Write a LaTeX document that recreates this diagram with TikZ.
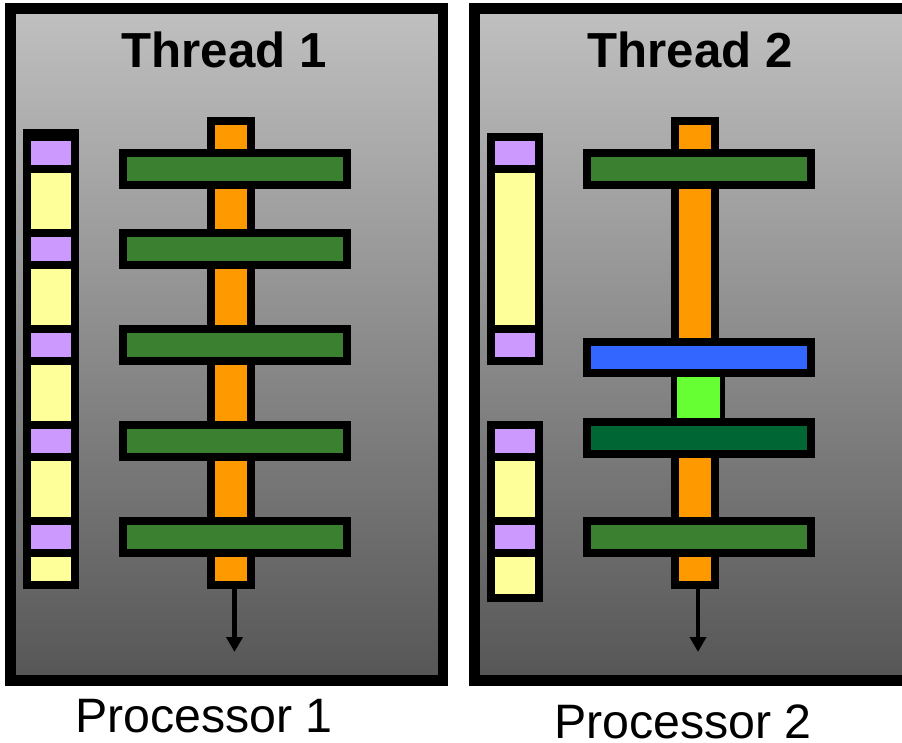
\documentclass[tikz,border=0pt]{standalone}
\usepackage{fontspec}
\setmainfont{Liberation Sans}
\usepackage{tikz}
\usetikzlibrary{arrows.meta, positioning}

\definecolor{paneltop}{RGB}{192,192,192}
\definecolor{panelbot}{RGB}{86,86,86}
\definecolor{purp}{RGB}{204,153,255}
\definecolor{yell}{RGB}{255,255,153}
\definecolor{orng}{RGB}{255,153,0}
\definecolor{grn}{RGB}{59,127,48}
\definecolor{blu}{RGB}{51,102,255}
\definecolor{lgrn}{RGB}{102,255,51}
\definecolor{dgrn}{RGB}{0,102,51}

\begin{document}
\begin{tikzpicture}[
		x=0.02cm, y=-0.02cm,
		panel/.style={draw, line width=0.21cm, top color=paneltop, bottom color=panelbot, minimum width=8.65cm, minimum height=13.44cm, inner sep=0},
		title/.style={font=\fontsize{28}{32}\selectfont\bfseries, anchor=base},
		proc/.style={font=\fontsize{27.5}{32}\selectfont, anchor=base, inner sep=0},
		thread/.style={draw, line width=0.16cm, fill=orng, minimum width=0.8cm, minimum height=9.28cm, inner sep=0},
		bar/.style={draw, line width=0.16cm, minimum width=4.48cm, minimum height=0.64cm, inner sep=0},
		memcol/.style={fill=black, minimum width=1.12cm, inner sep=0},
		cell/.style={minimum width=0.8cm, inner sep=0},
		flow/.style={-{Triangle[length=0.3cm, width=0.32cm]}, line width=0.09cm}
		]
		
		\path[use as bounding box, clip] (0,0) rectangle (902,743);
		
		% Processor 1 panel
		\node[panel] (p1) at (226.75, 344.5) {};
		\node[title] (t1) at (224, 68) {Thread 1};
		\node[proc] (l1) at (204, 732) {Processor 1};
		
		% Memory column (processor 1)
		\node[memcol, minimum height=9.2cm] (mc1) at (51, 359) {};
		\node[cell, fill=purp, minimum height=0.48cm] (m11) at (51, 153) {};
		\node[cell, fill=yell, minimum height=1.12cm] (m12) at (51, 201) {};
		\node[cell, fill=purp, minimum height=0.48cm] (m13) at (51, 249) {};
		\node[cell, fill=yell, minimum height=1.12cm] (m14) at (51, 297) {};
		\node[cell, fill=purp, minimum height=0.48cm] (m15) at (51, 345) {};
		\node[cell, fill=yell, minimum height=1.12cm] (m16) at (51, 393) {};
		\node[cell, fill=purp, minimum height=0.48cm] (m17) at (51, 441) {};
		\node[cell, fill=yell, minimum height=1.12cm] (m18) at (51, 489) {};
		\node[cell, fill=purp, minimum height=0.48cm] (m19) at (51, 537) {};
		\node[cell, fill=yell, minimum height=0.48cm] (m110) at (51, 569) {};
		
		% Thread 1
		\node[thread] (o1) at (231, 353) {};
		\node[bar, fill=grn] (b11) at (235, 169) {};
		\node[bar, fill=grn] (b12) at (235, 249) {};
		\node[bar, fill=grn] (b13) at (235, 345) {};
		\node[bar, fill=grn] (b14) at (235, 441) {};
		\node[bar, fill=grn] (b15) at (235, 537) {};
		\coordinate (end1) at (234.5, 652);
		\draw[flow] (o1.south -| end1) -- (end1);
		
		% Processor 2 panel (right side runs past the edge)
		\node[panel, minimum width=9.2cm] (p2) at (704.25, 344.5) {};
		\node[title] (t2) at (690, 68) {Thread 2};
		\node[proc] (l2) at (683, 738) {Processor 2};
		
		% Memory columns (processor 2)
		\node[memcol, minimum height=4.64cm] (mc2) at (515, 249) {};
		\node[cell, fill=purp, minimum height=0.48cm] (m21) at (515, 153) {};
		\node[cell, fill=yell, minimum height=3.04cm] (m22) at (515, 249) {};
		\node[cell, fill=purp, minimum height=0.48cm] (m23) at (515, 345) {};
		\node[memcol, minimum height=3.62cm] (mc3) at (515, 511.5) {};
		\node[cell, fill=purp, minimum height=0.48cm] (m24) at (515, 441) {};
		\node[cell, fill=yell, minimum height=1.12cm] (m25) at (515, 489) {};
		\node[cell, fill=purp, minimum height=0.48cm] (m26) at (515, 537) {};
		\node[cell, fill=yell, minimum height=0.74cm] (m27) at (515, 575.5) {};
		
		% Thread 2
		\node[thread] (o2) at (695, 353) {};
		\node[draw, line width=0.1cm, fill=lgrn, minimum width=0.96cm, minimum height=0.92cm, inner sep=0] (sq) at (698.5, 397.5) {};
		\node[bar, fill=grn] (b21) at (699, 169) {};
		\node[bar, fill=blu] (b22) at (699, 357.5) {};
		\node[bar, fill=dgrn] (b23) at (699, 438) {};
		\node[bar, fill=grn] (b24) at (699, 537) {};
		\coordinate (end2) at (698, 652);
		\draw[flow] (o2.south -| end2) -- (end2);
		
	\end{tikzpicture}
\end{document}
